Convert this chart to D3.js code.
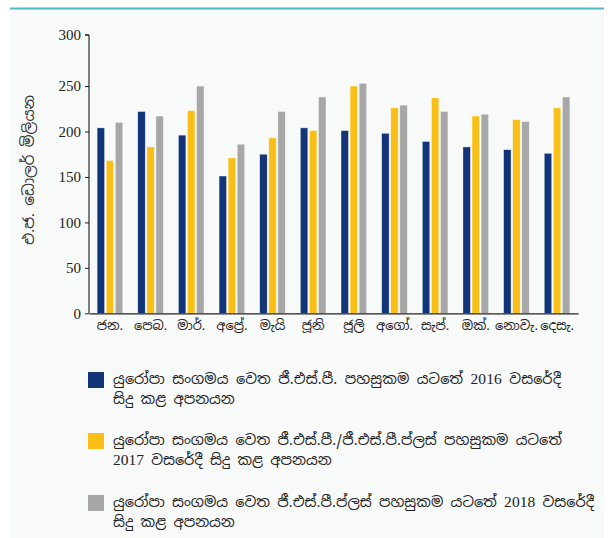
<!DOCTYPE html>
<html>
<head>
<meta charset="utf-8">
<script src="https://cdn.jsdelivr.net/npm/d3@7"></script>
<style>
  body { margin: 0; background: #fff; }
  svg text { fill: #222; }
</style>
</head>
<body>
<svg id="chart" width="614" height="538"></svg>
<script>
// month labels (Sinhala)
var months = ["ජන.", "පෙබ.", "මාර්.", "අප්‍රේ.", "මැයි", "ජූනි", "ජූලි", "අගෝ.", "සැප්.", "ඔක්.", "නොවැ.", "දෙසැ."];
var series = ["y2016", "y2017", "y2018"];
var y2016 = [204, 222, 196, 151, 175, 204, 201, 198, 189, 183, 180, 176];
var y2017 = [168, 183, 223, 171, 193, 201, 250, 226, 237, 217, 213, 226];
var y2018 = [210, 217, 250, 186, 222, 238, 253, 229, 222, 219, 211, 238];
var yTicks = [0, 50, 100, 150, 200, 250, 300];
var legendLines = [
    ["යුරෝපා සංගමය වෙත ජී.එස්.පී. පහසුකම යටතේ 2016 වසරේදී", "සිදු කළ අපනයන"],
    ["යුරෝපා සංගමය වෙත ජී.එස්.පී./ජී.එස්.පී.ප්ලස් පහසුකම යටතේ", "2017 වසරේදී සිදු කළ අපනයන"],
    ["යුරෝපා සංගමය වෙත ජී.එස්.පී.ප්ලස් පහසුකම යටතේ 2018 වසරේදී", "සිදු කළ අපනයන"]
];
var yTitle = "එ.ජ. ඩොලර් මිලියන";

var colors = {y2016: "#12357a", y2017: "#f9bf16", y2018: "#a7a7a7"};

var rows = months.map(function(m, i) {
    return {month: m, y2016: y2016[i], y2017: y2017[i], y2018: y2018[i]};
});

var svg = d3.select("#chart");
var sinhala = "'Noto Sans Sinhala', 'Noto Sans', 'DejaVu Sans', sans-serif";
var serif = "'Liberation Serif', 'DejaVu Serif', serif";

// panel background + teal top rule
svg.append("rect").attr("x", 10).attr("y", 8).attr("width", 594).attr("height", 530).attr("fill", "#f8f9f9");
svg.append("rect").attr("x", 10).attr("y", 7.5).attr("width", 594).attr("height", 2).attr("fill", "#4db8c9");

var x0 = d3.scaleBand().domain(months).range([89, 578]).paddingInner(0.37).paddingOuter(0.2);
var x1 = d3.scaleBand().domain(series).range([0, x0.bandwidth()]).paddingInner(0.18);
var y = d3.scaleLinear().domain([0, 300]).range([313.3, 40.6]);

// bars
var g = svg.append("g");
g.selectAll("g.month")
    .data(rows)
    .enter().append("g")
    .attr("class", "month")
    .attr("transform", function(d) { return "translate(" + x0(d.month) + ",0)"; })
    .selectAll("rect")
    .data(function(d) { return series.map(function(k) { return {key: k, value: d[k]}; }); })
    .enter().append("rect")
    .attr("x", function(d) { return x1(d.key); })
    .attr("width", x1.bandwidth())
    .attr("y", function(d) { return y(d.value); })
    .attr("height", function(d) { return y(0) - y(d.value); })
    .attr("fill", function(d) { return colors[d.key]; })
    .attr("stroke", "#ffffff")
    .attr("stroke-opacity", 0.6)
    .attr("stroke-width", 0.6);

// y axis
var yAxis = svg.append("g")
    .attr("transform", "translate(89,0)")
    .call(d3.axisLeft(y).tickValues(yTicks).tickSize(4).tickPadding(4));
yAxis.select(".domain").attr("d", "M-4,35H0V313.3");
yAxis.selectAll(".tick line").attr("stroke", "#222");
yAxis.selectAll(".tick").filter(function(d) { return d === 300; }).attr("transform", "translate(0,35)");
yAxis.selectAll("text")
    .attr("font-family", serif)
    .attr("font-size", 15)
    .attr("fill", "#222");

// x axis
var xAxis = svg.append("g")
    .attr("transform", "translate(0,313.3)")
    .call(d3.axisBottom(x0).tickSize(0).tickPadding(7));
xAxis.select(".domain").attr("stroke", "#222").attr("stroke-width", 1.3);
xAxis.selectAll("text")
    .attr("font-family", sinhala)
    .attr("font-size", 13)
    .attr("fill", "#222");

// y title
svg.append("text")
    .attr("transform", "translate(34,170) rotate(-90)")
    .attr("text-anchor", "middle")
    .attr("font-family", sinhala)
    .attr("font-size", 15)
    .style("fill", "#333")
    .text(yTitle);

// legend
var legendY = [372, 433, 495];
var firstLineWidth = [448, 449, 481];
var leg = svg.selectAll("g.legend")
    .data(series)
    .enter().append("g")
    .attr("class", "legend")
    .attr("transform", function(d, i) { return "translate(88," + legendY[i] + ")"; });

leg.append("rect")
    .attr("width", 16)
    .attr("height", 16)
    .attr("fill", function(d) { return colors[d]; });

leg.each(function(d, i) {
    var g = d3.select(this);
    legendLines[i].forEach(function(line, j) {
        var t = g.append("text")
            .attr("font-family", sinhala)
            .attr("font-size", 14.5)
            .attr("x", 25)
            .attr("y", 12 + j * 20);
        // years are set in a serif face, the rest in the Sinhala face
        line.split(/(\d+)/).forEach(function(part) {
            if (!part) return;
            var s = t.append("tspan").text(part);
            if (/^\d+$/.test(part)) s.attr("font-family", serif).attr("font-size", 15.5);
        });
        if (j === 0) t.attr("textLength", firstLineWidth[i]).attr("lengthAdjust", "spacing");
    });
});
</script>
</body>
</html>
